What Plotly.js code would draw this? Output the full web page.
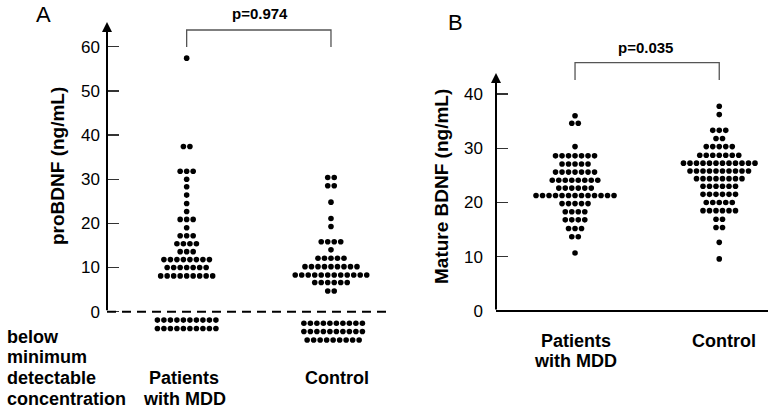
<!DOCTYPE html>
<html>
<head>
<meta charset="utf-8">
<script src="https://cdn.plot.ly/plotly-3.0.1.min.js"></script>
<style>html,body{margin:0;padding:0;background:#fff;}#chart{width:774px;height:410px;}</style>
</head>
<body>
<div id="chart"></div>
<script>
// ---------- DATA (row value, number of subjects in that row) ----------
const categories = ["Patients with MDD", "Control"];

// Panel A: proBDNF (ng/mL)
const A_MDD_rows   = [57.4, 37.4, 31.8, 30.0, 28.3, 26.4, 24.5, 22.7, 20.9, 19.0, 17.2, 15.4, 13.6, 11.8, 10.0, 8.1];
const A_MDD_counts = [1, 2, 3, 1, 1, 1, 1, 1, 3, 1, 3, 4, 3, 8, 7, 9];
const A_CTL_rows   = [30.4, 28.5, 24.8, 21.1, 19.3, 15.85, 14.0, 12.1, 10.2, 8.3, 6.6, 4.7];
const A_CTL_counts = [2, 2, 1, 1, 1, 4, 1, 5, 9, 12, 6, 2];
// below minimum detectable concentration (drawn under the dashed zero line)
const A_MDD_below_rows   = [-1.9, -3.8];
const A_MDD_below_counts = [10, 10];
const A_CTL_below_rows   = [-2.6, -4.5, -6.4];
const A_CTL_below_counts = [10, 10, 9];

// Panel B: Mature BDNF (ng/mL)
const B_MDD_rows   = [36.0, 34.6, 30.3, 28.6, 27.1, 25.6, 24.1, 22.65, 21.3, 19.8, 18.3, 16.8, 15.2, 13.7, 10.7];
const B_MDD_counts = [1, 2, 1, 7, 5, 7, 8, 6, 13, 5, 4, 4, 3, 2, 1];
const B_CTL_rows   = [37.75, 36.2, 33.3, 31.8, 30.3, 28.7, 27.25, 25.8, 24.4, 23.0, 21.5, 20.0, 18.5, 16.9, 15.4, 12.65, 9.6];
const B_CTL_counts = [1, 1, 3, 2, 5, 7, 12, 10, 8, 6, 6, 5, 6, 2, 2, 1, 1];

const yTicksA = [0, 10, 20, 30, 40, 50, 60];
const yTicksB = [0, 10, 20, 30, 40];
const pA = "p=0.974", pB = "p=0.035";
const yTitleA = "proBDNF (ng/mL)", yTitleB = "Mature BDNF (ng/mL)";
const belowLabel = ["below", "minimum", "detectable", "concentration"];

// ---------- LAYOUT GEOMETRY ----------
const W = 774, H = 410, T = 22, B = 65;
const plotH = H - T - B;
const xRangeA = [-0.552, 1.409], xDomA = [107 / W, 390 / W];
const xRangeB = [-0.548, 1.338], xDomB = [496 / W, 768 / W];
const yRangeA = [-7.54, 65.59];
const yRangeB = [-6.267, 53.27];
const FONT = "Liberation Sans, Arial, Helvetica, sans-serif";
const DOT_PX = 6.5;

function pxPerUnit(range, dom) { return (dom[1] - dom[0]) * W / (range[1] - range[0]); }
function swarm(center, rows, counts, spacing) {
  const xs = [], ys = [];
  rows.forEach((v, i) => {
    const n = counts[i];
    for (let k = 0; k < n; k++) { xs.push(center + (k - (n - 1) / 2) * spacing); ys.push(v); }
  });
  return { xs, ys };
}
const sA = DOT_PX / pxPerUnit(xRangeA, xDomA);
const sB = DOT_PX / pxPerUnit(xRangeB, xDomB);

const marker = { color: "#000", size: 5.6, line: { width: 0 } };
function tr(d, xa, ya) { return { type: "scatter", mode: "markers", x: d.xs, y: d.ys, xaxis: xa, yaxis: ya, marker, hoverinfo: "skip", showlegend: false }; }

const traces = [
  tr(swarm(0, A_MDD_rows, A_MDD_counts, sA), "x", "y"),
  tr(swarm(1, A_CTL_rows, A_CTL_counts, sA), "x", "y"),
  tr(swarm(0, A_MDD_below_rows, A_MDD_below_counts, sA), "x", "y"),
  tr(swarm(1.015, A_CTL_below_rows, A_CTL_below_counts, sA), "x", "y"),
  tr(swarm(0, B_MDD_rows, B_MDD_counts, sB), "x2", "y2"),
  tr(swarm(1, B_CTL_rows, B_CTL_counts, sB), "x2", "y2"),
];

// pixel helpers for text placement
const px = p => p / W;
const py = p => (H - B - p) / plotH;
// pixel -> data y for each panel
const yA = p => yRangeA[1] - (p - T) / plotH * (yRangeA[1] - yRangeA[0]);
const yB = p => yRangeB[1] - (p - T) / plotH * (yRangeB[1] - yRangeB[0]);

function txt(text, x, y, size, opts) {
  return Object.assign({ text, xref: "paper", yref: "paper", x: px(x), y: py(y), xanchor: "center", yanchor: "middle",
    showarrow: false, font: { family: FONT, size, color: "#000" } }, opts || {});
}

const annotations = [
  txt("A", 43, 15, 22),
  txt("B", 455, 22, 22),
  txt("<b>" + pA + "</b>", 260, 14, 15),
  txt("<b>" + pB + "</b>", 645, 47, 15),
  txt("<b>" + yTitleA + "</b>", 57, 166, 19, { textangle: -90 }),
  txt("<b>" + yTitleB + "</b>", 441, 187, 19, { textangle: -90 }),
  txt("<b>Patients</b>", 184, 378, 18),
  txt("<b>with MDD</b>", 184, 399, 18),
  txt("<b>" + categories[1] + "</b>", 337, 378, 18),
  txt("<b>Patients</b>", 575.5, 341, 18),
  txt("<b>with MDD</b>", 575.5, 361, 18),
  txt("<b>" + categories[1] + "</b>", 723.5, 341, 18),
];
const belowY = [337, 357, 378, 399];
belowLabel.forEach((t, i) => annotations.push(txt("<b>" + t + "</b>", 5, belowY[i], 18, { xanchor: "left" })));

// axis arrows
annotations.push({ xref: "x", yref: "y", axref: "x", ayref: "y", x: xRangeA[0], y: yA(22), ax: xRangeA[0], ay: 0,
  text: "", showarrow: true, arrowhead: 2, arrowsize: 1, arrowwidth: 2, arrowcolor: "#000", standoff: 0 });
annotations.push({ xref: "x2", yref: "y2", axref: "x2", ayref: "y2", x: xRangeB[0], y: yB(73), ax: xRangeB[0], ay: 0,
  text: "", showarrow: true, arrowhead: 2, arrowsize: 1, arrowwidth: 2, arrowcolor: "#000", standoff: 0 });

const brColor = "#555";
const shapes = [
  { type: "line", xref: "x", yref: "y", x0: xRangeA[0], x1: xRangeA[1], y0: 0, y1: 0, line: { color: "#000", width: 2, dash: "9px,6px" } },
  { type: "line", xref: "x2", yref: "y2", x0: xRangeB[0], x1: xRangeB[1], y0: 0, y1: 0, line: { color: "#000", width: 2 } },
  { type: "path", xref: "x", yref: "y", path: `M 0 ${yA(47)} L 0 ${yA(30)} L 1 ${yA(30)} L 1 ${yA(47)}`, line: { color: brColor, width: 1.3 } },
  { type: "path", xref: "x2", yref: "y2", path: `M 0 ${yB(80)} L 0 ${yB(62.7)} L 1 ${yB(62.7)} L 1 ${yB(80)}`, line: { color: brColor, width: 1.3 } },
];

const xCommon = { showgrid: false, zeroline: false, showticklabels: false, ticks: "", showline: false, fixedrange: true };
const yCommon = { showgrid: false, zeroline: false, showline: false, ticks: "inside", ticklen: 12, tickwidth: 1.3, tickcolor: "#333",
  tickfont: { family: FONT, size: 17, color: "#000" }, fixedrange: true };

const layout = {
  width: W, height: H,
  margin: { l: 0, r: 0, t: T, b: B, pad: 0 },
  paper_bgcolor: "#fff", plot_bgcolor: "#fff",
  showlegend: false,
  xaxis: Object.assign({}, xCommon, { domain: xDomA, range: xRangeA }),
  yaxis: Object.assign({}, yCommon, { anchor: "x", range: yRangeA, tickvals: yTicksA, ticklabelstandoff: 6 }),
  xaxis2: Object.assign({}, xCommon, { domain: xDomB, range: xRangeB, anchor: "y2" }),
  yaxis2: Object.assign({}, yCommon, { anchor: "x2", range: yRangeB, tickvals: yTicksB, ticklabelstandoff: 12 }),
  annotations, shapes,
};

Plotly.newPlot("chart", traces, layout, { staticPlot: true, displayModeBar: false });
</script>
</body>
</html>
